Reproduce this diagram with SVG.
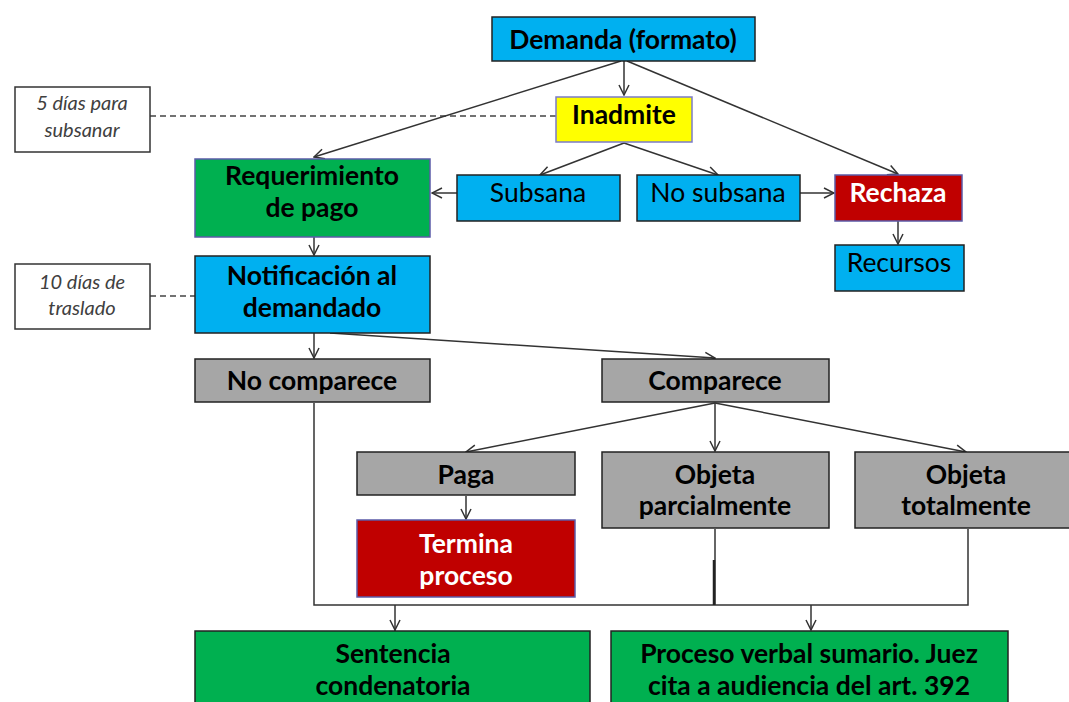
<svg xmlns="http://www.w3.org/2000/svg" width="1069" height="702" viewBox="0 0 1069 702">
<defs>
<marker id="ah" viewBox="0 0 12 12" refX="11" refY="6" markerWidth="12" markerHeight="12" markerUnits="userSpaceOnUse" orient="auto">
<path d="M1,1 L11,6 L1,11" fill="none" stroke="#333" stroke-width="1.5"/>
</marker>
<style>
text{font-family:Lato,"Open Sans","Liberation Sans",sans-serif;text-anchor:middle;font-size:26.5px;fill:#000}
.b{font-weight:bold}
.w{fill:#fff}
.note{font-style:italic;font-size:20px;fill:#404040}
.blue{fill:#00B0F0;stroke:#222;stroke-width:1.5}
.green{fill:#00B050;stroke:#5B5BA8;stroke-width:1.5}
.green2{fill:#00B050;stroke:#222;stroke-width:1.5}
.red{fill:#C00000;stroke:#5B5BA8;stroke-width:1.5}
.yel{fill:#FFFF00;stroke:#7B7BC8;stroke-width:1.5}
.gray{fill:#A6A6A6;stroke:#222;stroke-width:1.5}
.wh{fill:#fff;stroke:#333;stroke-width:1.5}
.c{fill:none;stroke:#333;stroke-width:1.5}
.a{fill:none;stroke:#333;stroke-width:1.5;marker-end:url(#ah)}
.d{fill:none;stroke:#444;stroke-width:1.5;stroke-dasharray:6,4}
</style>
</defs>
<rect width="1069" height="702" fill="#fff"/>
<g id="connectors">
<line class="d" x1="150" y1="116" x2="556" y2="116"/>
<line class="d" x1="150" y1="296" x2="195" y2="296"/>
<line class="a" x1="624" y1="61" x2="624" y2="95"/>
<line class="a" x1="621" y1="61" x2="314" y2="157"/>
<line class="a" x1="627" y1="61" x2="898" y2="174"/>
<line class="a" x1="624" y1="143" x2="540" y2="175"/>
<line class="a" x1="624" y1="143" x2="718" y2="175"/>
<line class="a" x1="457" y1="193" x2="432" y2="193"/>
<line class="a" x1="800" y1="193" x2="834" y2="193"/>
<line class="a" x1="898" y1="221" x2="898" y2="244"/>
<line class="a" x1="314" y1="237" x2="314" y2="255"/>
<line class="a" x1="314" y1="333" x2="314" y2="358"/>
<line class="a" x1="330" y1="333" x2="715" y2="358"/>
<line class="a" x1="715" y1="403" x2="466" y2="452"/>
<line class="a" x1="715" y1="403" x2="715" y2="451"/>
<line class="a" x1="715" y1="403" x2="966" y2="452"/>
<line class="a" x1="466" y1="496" x2="466" y2="519"/>
<polyline class="c" points="314,403 314,605 968,605 968,529"/>
<line class="c" x1="715" y1="529" x2="715" y2="605"/>
<line x1="714" y1="560" x2="714" y2="605" stroke="#222" stroke-width="2.5"/>
<line class="a" x1="395" y1="605" x2="395" y2="630"/>
<line class="c" x1="395" y1="630" x2="395" y2="651"/>
<line class="a" x1="811" y1="605" x2="811" y2="630"/>
</g>
<g id="n-demanda"><rect class="blue" x="492" y="17" width="263" height="44"/><text class="b" x="623" y="49">Demanda (formato)</text></g>
<g id="n-nota1"><rect class="wh" x="15" y="87" width="135" height="65"/><text class="note" x="82" y="110">5 días para</text><text class="note" x="82" y="137">subsanar</text></g>
<g id="n-inadmite"><rect class="yel" x="556" y="97" width="136" height="45"/><text class="b" x="624" y="124">Inadmite</text></g>
<g id="n-requerimiento"><rect class="green" x="195" y="159" width="235" height="78"/><text class="b" x="312" y="185">Requerimiento</text><text class="b" x="312" y="217">de pago</text></g>
<g id="n-subsana"><rect class="blue" x="457" y="175" width="163" height="46"/><text x="538" y="202">Subsana</text></g>
<g id="n-nosubsana"><rect class="blue" x="637" y="175" width="163" height="46"/><text x="718" y="202">No subsana</text></g>
<g id="n-rechaza"><rect class="red" x="835" y="175" width="127" height="46"/><text class="b w" x="898" y="202">Rechaza</text></g>
<g id="n-recursos"><rect class="blue" x="835" y="245" width="129" height="46"/><text x="899" y="272">Recursos</text></g>
<g id="n-nota2"><rect class="wh" x="15" y="264" width="135" height="65"/><text class="note" x="82" y="289">10 días de</text><text class="note" x="82" y="315">traslado</text></g>
<g id="n-notificacion"><rect class="blue" x="195" y="256" width="235" height="77"/><text class="b" x="312" y="285">Notificación al</text><text class="b" x="312" y="317">demandado</text></g>
<g id="n-nocomparece"><rect class="gray" x="195" y="359" width="235" height="43"/><text class="b" x="312" y="390">No comparece</text></g>
<g id="n-comparece"><rect class="gray" x="602" y="359" width="227" height="43"/><text class="b" x="715" y="390">Comparece</text></g>
<g id="n-paga"><rect class="gray" x="357" y="452" width="218" height="43"/><text class="b" x="466" y="484">Paga</text></g>
<g id="n-objparc"><rect class="gray" x="602" y="452" width="227" height="76"/><text class="b" x="715" y="484">Objeta</text><text class="b" x="715" y="515">parcialmente</text></g>
<g id="n-objtot"><rect class="gray" x="855" y="452" width="222" height="76"/><text class="b" x="966" y="484">Objeta</text><text class="b" x="966" y="515">totalmente</text></g>
<g id="n-termina"><rect class="red" x="357" y="520" width="218" height="77"/><text class="b w" x="466" y="553">Termina</text><text class="b w" x="466" y="585">proceso</text></g>
<g id="n-sentencia"><rect class="green2" x="195" y="631" width="395" height="80"/><text class="b" x="393" y="663">Sentencia</text><text class="b" x="393" y="695">condenatoria</text></g>
<g id="n-verbal"><rect class="green2" x="611" y="631" width="397" height="80"/><text class="b" x="809" y="663">Proceso verbal sumario. Juez</text><text class="b" x="809" y="695">cita a audiencia del art. 392</text></g>
</svg>
